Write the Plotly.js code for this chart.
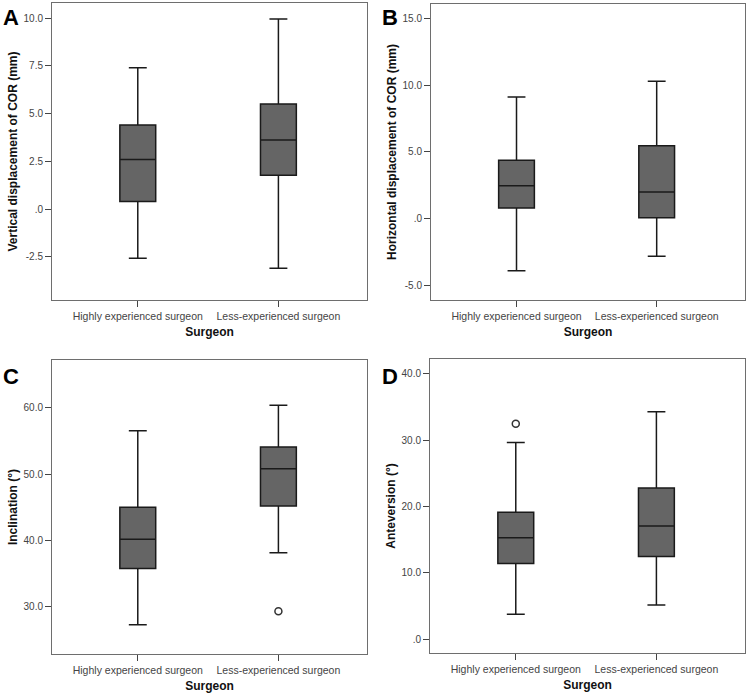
<!DOCTYPE html>
<html>
<head>
<meta charset="utf-8">
<script src="https://cdn.plot.ly/plotly-3.0.1.min.js"></script>
<style>html,body{margin:0;padding:0;background:#fff;}#chart{width:750px;height:696px;}</style>
</head>
<body>
<div id="chart"></div>
<script>
// ---- data ----
const categories = ["Highly experienced surgeon", "Less-experienced surgeon"];

// Panel A: Vertical displacement of COR (mm)
const vertQ1 = [0.40, 1.77];
const vertMedian = [2.60, 3.62];
const vertQ3 = [4.40, 5.50];
const vertLower = [-2.58, -3.11];
const vertUpper = [7.41, 9.96];
const vertOutliers = [[], []];

// Panel B: Horizontal displacement of COR (mm)
const horzQ1 = [0.80, 0.07];
const horzMedian = [2.47, 2.00];
const horzQ3 = [4.37, 5.47];
const horzLower = [-3.90, -2.82];
const horzUpper = [9.11, 10.29];
const horzOutliers = [[], []];

// Panel C: Inclination (°)
const inclQ1 = [35.7, 45.15];
const inclMedian = [40.1, 50.8];
const inclQ3 = [44.95, 54.1];
const inclLower = [27.17, 38.08];
const inclUpper = [56.56, 60.4];
const inclOutliers = [[], [29.2]];

// Panel D: Anteversion (°)
const antQ1 = [11.4, 12.45];
const antMedian = [15.27, 17.04];
const antQ3 = [19.15, 22.78];
const antLower = [3.72, 5.13];
const antUpper = [29.64, 34.3];
const antOutliers = [[32.48], []];

// tick labels
const vertTickVals = [-2.5, 0, 2.5, 5, 7.5, 10];
const vertTickText = ["-2.5", ".0", "2.5", "5.0", "7.5", "10.0"];
const horzTickVals = [-5, 0, 5, 10, 15];
const horzTickText = ["-5.0", ".0", "5.0", "10.0", "15.0"];
const inclTickVals = [30, 40, 50, 60];
const inclTickText = ["30.0", "40.0", "50.0", "60.0"];
const antTickVals = [0, 10, 20, 30, 40];
const antTickText = [".0", "10.0", "20.0", "30.0", "40.0"];

const yTitles = ["Vertical displacement of COR (mm)", "Horizontal displacement of COR (mm)", "Inclination (°)", "Anteversion (°)"];
const xTitle = "Surgeon";
const panelLetters = ["A", "B", "C", "D"];

// ---- build ----
const W = 750, H = 696;
const FONT = "Arial, 'Liberation Sans', sans-serif";
const panels = [
  {q1: vertQ1, med: vertMedian, q3: vertQ3, lo: vertLower, hi: vertUpper, out: vertOutliers,
   tv: vertTickVals, tt: vertTickText, yr: [-4.77, 10.8], px: [52, 367], py: [3, 300], letter: [11, 18]},
  {q1: horzQ1, med: horzMedian, q3: horzQ3, lo: horzLower, hi: horzUpper, out: horzOutliers,
   tv: horzTickVals, tt: horzTickText, yr: [-6.09, 16.08], px: [431, 745], py: [4, 300], letter: [390, 18]},
  {q1: inclQ1, med: inclMedian, q3: inclQ3, lo: inclLower, hi: inclUpper, out: inclOutliers,
   tv: inclTickVals, tt: inclTickText, yr: [22.73, 67.27], px: [52, 367], py: [360, 654], letter: [11, 376]},
  {q1: antQ1, med: antMedian, q3: antQ3, lo: antLower, hi: antUpper, out: antOutliers,
   tv: antTickVals, tt: antTickText, yr: [-2.11, 42.26], px: [430, 745], py: [359, 653], letter: [390, 376]}
];

const data = [];
const layout = {
  width: W, height: H,
  margin: {l: 0, r: 0, t: 0, b: 0},
  paper_bgcolor: "#fff", plot_bgcolor: "#fff",
  showlegend: false,
  font: {family: FONT, color: "#333"},
  annotations: []
};

panels.forEach((p, i) => {
  const n = i === 0 ? "" : String(i + 1);
  const xa = "x" + n, ya = "y" + n;
  data.push({
    type: "box", xaxis: xa, yaxis: ya,
    x: categories,
    q1: p.q1, median: p.med, q3: p.q3, lowerfence: p.lo, upperfence: p.hi,
    boxpoints: false,
    width: 0.255,
    whiskerwidth: 0.5,
    fillcolor: "#656565",
    line: {color: "#1a1a1a", width: 1.5},
    hoverinfo: "skip"
  });
  const ox = [], oy = [];
  p.out.forEach((arr, k) => arr.forEach(v => { ox.push(categories[k]); oy.push(v); }));
  data.push({
    type: "scatter", mode: "markers", xaxis: xa, yaxis: ya,
    x: ox, y: oy,
    marker: {symbol: "circle-open", size: 7, color: "#333", line: {width: 1.5, color: "#333"}},
    hoverinfo: "skip"
  });
  layout["xaxis" + n] = {
    domain: [p.px[0] / W, p.px[1] / W],
    anchor: ya,
    type: "category",
    categoryorder: "array", categoryarray: categories,
    range: [-0.61, 1.63],
    showline: true, mirror: true, linecolor: "#6e6e6e", linewidth: 1,
    showgrid: false, zeroline: false,
    ticks: "outside", ticklen: 6, tickcolor: "#444", tickwidth: 1,
    tickfont: {family: FONT, size: 10.5, color: "#444"},
    title: {text: xTitle, font: {family: FONT, size: 12, color: "#111", weight: "bold"}, standoff: 7},
    fixedrange: true
  };
  layout["yaxis" + n] = {
    domain: [1 - p.py[1] / H, 1 - p.py[0] / H],
    anchor: xa,
    range: p.yr,
    tickvals: p.tv, ticktext: p.tt,
    showline: true, mirror: true, linecolor: "#6e6e6e", linewidth: 1,
    showgrid: false, zeroline: false,
    ticks: "outside", ticklen: 6, tickcolor: "#444", tickwidth: 1,
    tickfont: {family: FONT, size: 10, color: "#444"},
    title: {text: yTitles[i], font: {family: FONT, size: 12, color: "#111", weight: "bold"}, standoff: 3},
    fixedrange: true
  };
  layout.annotations.push({
    text: panelLetters[i], xref: "paper", yref: "paper",
    x: p.letter[0] / W, y: 1 - p.letter[1] / H,
    xanchor: "center", yanchor: "middle", showarrow: false,
    font: {family: FONT, size: 22, color: "#000", weight: "bold"}
  });
});

Plotly.newPlot("chart", data, layout, {displayModeBar: false, staticPlot: true});
</script>
</body>
</html>
